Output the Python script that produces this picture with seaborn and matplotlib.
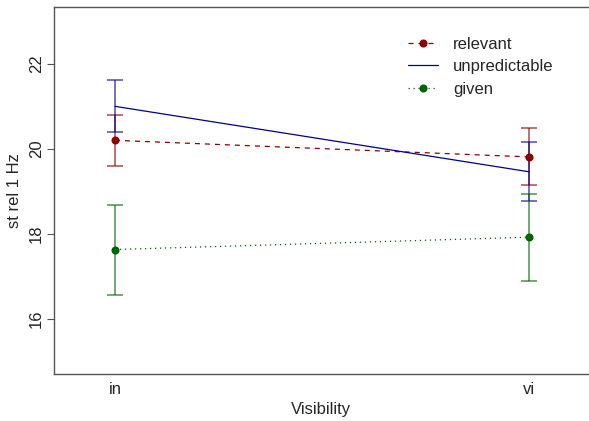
# interaction plot: st rel 1 Hz by Visibility and group

import pandas as pd
import matplotlib
matplotlib.use('Agg')
import matplotlib.pyplot as plt
from matplotlib.lines import Line2D
import seaborn as sns

# data
visibility = ['in', 'vi']
groups = ['relevant', 'unpredictable', 'given']
relevant = [20.20, 19.81]
unpredictable = [21.00, 19.46]
given = [17.63, 17.92]
relevant_lo = [19.60, 19.15]
relevant_hi = [20.80, 20.48]
unpredictable_lo = [20.39, 18.77]
unpredictable_hi = [21.62, 20.16]
given_lo = [16.56, 16.89]
given_hi = [18.68, 18.93]

colors = {'relevant': '#8B0000', 'unpredictable': '#00008B', 'given': '#006400'}
means = {'relevant': relevant, 'unpredictable': unpredictable, 'given': given}
lows = {'relevant': relevant_lo, 'unpredictable': unpredictable_lo, 'given': given_lo}
highs = {'relevant': relevant_hi, 'unpredictable': unpredictable_hi, 'given': given_hi}
dashes = {'relevant': (4, 4), 'unpredictable': None, 'given': (1, 3)}
markers = {'relevant': 'o', 'unpredictable': None, 'given': 'o'}

# long format table
rows = []
for g in groups:
    for i, v in enumerate(visibility):
        rows.append({'group': g, 'pos': i + 1, 'Visibility': v, 'value': means[g][i],
                     'lo': lows[g][i], 'hi': highs[g][i]})
df = pd.DataFrame(rows)

sns.set_style('white')
plt.rcParams['font.family'] = ['Liberation Sans', 'DejaVu Sans']
plt.rcParams['font.size'] = 12

fig = plt.figure(figsize=(5.89, 4.21), dpi=100)
ax = fig.add_axes([0.0912, 0.1116, 0.9088, 0.871])

# error bars first
for g in groups:
    d = df[df['group'] == g]
    ax.errorbar(d['pos'], d['value'], yerr=[d['value'] - d['lo'], d['hi'] - d['value']],
                fmt='none', ecolor=colors[g], alpha=0.6, elinewidth=1.3,
                capsize=5.5, capthick=1.3)

# lines with points
for g in groups:
    d = df[df['group'] == g]
    kw = dict(color=colors[g], linewidth=0.9)
    if dashes[g] is not None:
        kw['dashes'] = dashes[g]
    if markers[g] is not None:
        kw['marker'] = 'o'
        kw['markersize'] = 5.8
        kw['markeredgewidth'] = 0
    sns.lineplot(x='pos', y='value', data=d, ax=ax, **kw)

ax.set_xlim(0.852, 2.145)
ax.set_ylim(14.70, 23.33)
ax.set_xticks([1, 2])
ax.set_xticklabels(visibility)
ax.set_yticks([16, 18, 20, 22])
ax.tick_params(axis='x', length=0, pad=6, labelsize=12)
ax.tick_params(axis='y', length=5, width=0.8, color='#555555', direction='out',
               pad=2, labelsize=12, left=True)
for lbl in ax.get_yticklabels():
    lbl.set_rotation(90)
    lbl.set_va('center')
ax.set_xlabel('Visibility', fontsize=12, labelpad=3)
ax.set_ylabel('st rel 1 Hz', fontsize=12, labelpad=5)

for s in ['left', 'top', 'bottom']:
    ax.spines[s].set_color('#555555')
    ax.spines[s].set_linewidth(1.0)
ax.spines['right'].set_visible(False)

handles = []
for g in groups:
    h = Line2D([0], [0], color=colors[g], linewidth=0.9,
               linestyle=(0, dashes[g]) if dashes[g] is not None else '-',
               marker=markers[g] if markers[g] else None, markersize=5.8,
               markeredgewidth=0)
    handles.append(h)
fig.legend(handles, groups, loc='upper left', bbox_to_anchor=(0.693, 0.913),
           bbox_transform=fig.transFigure, frameon=False, fontsize=12,
           handlelength=1.8, handletextpad=0.9, labelspacing=0.45, borderpad=0,
           borderaxespad=0)

plt.savefig('out.png', dpi=100)
